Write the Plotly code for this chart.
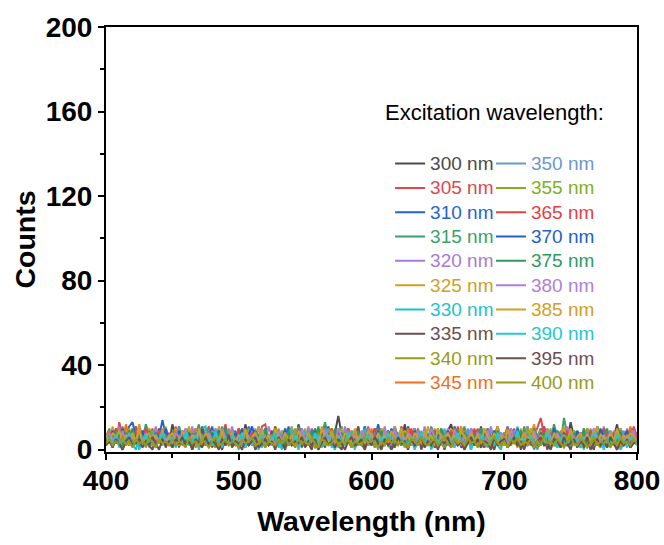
import numpy as np
import plotly.graph_objects as go

# Emission counts sampled every 2.5 nm across 400-800 nm, one list per excitation wavelength
s300 = [6,3,9,5,2,8,10,4,6,11,5,7,2,9,6,3,10,5,7,3,
        12,6,3,9,5,10,2,7,6,11,3,8,5,2,10,6,7,3,9,4,
        7,3,12,5,9,2,6,10,3,7,5,11,6,2,8,4,7,3,12,6,
        3,9,5,10,2,7,6,11,4,8,16,7,3,10,6,2,9,5,11,3,
        6,10,3,7,5,9,2,11,6,3,12,5,7,10,3,6,9,2,7,4,
        10,3,6,9,12,5,7,2,10,6,3,8,5,11,3,7,6,2,9,4,
        7,3,10,6,2,9,5,11,3,7,6,10,2,5,9,3,7,6,10,4,
        13,6,3,8,5,7,2,9,6,3,7,4,8,6,12,3,7,5,10,6,
        8]
s305 = [7,4,10,3,13,6,9,2,7,11,5,8,3,6,10,2,7,4,9,3,
        6,11,3,7,5,10,2,9,6,3,7,11,5,8,2,6,12,4,7,3,
        10,5,7,2,9,6,3,11,12,4,7,3,9,6,2,10,5,7,3,8,
        6,2,10,5,7,3,11,6,9,2,5,7,3,10,6,8,2,7,4,11,
        3,7,6,10,2,9,5,7,3,11,6,2,9,4,10,3,7,6,2,8,
        5,10,3,7,6,2,11,4,9,3,7,6,10,2,5,8,3,7,11,4,
        8,3,6,10,2,7,5,9,3,6,11,15,7,4,2,9,6,3,10,4,
        7,2,8,6,3,10,5,7,2,9,6,3,8,5,7,2,6,9,3,11,
        6]
s310 = [5,9,3,10,6,2,7,11,13,6,3,9,5,7,2,10,6,14,7,3,
        8,5,11,2,7,6,3,10,4,9,2,6,11,3,7,5,10,2,6,9,
        3,7,5,11,2,9,6,3,10,4,7,2,9,6,3,11,5,7,2,10,
        6,3,9,5,7,2,11,6,3,9,4,10,2,7,6,3,9,5,11,2,
        7,5,12,6,3,9,2,10,4,7,3,11,6,2,9,5,7,3,10,6,
        2,9,5,7,3,11,6,2,10,4,9,3,7,6,2,10,5,8,3,7,
        6,11,2,7,5,9,3,10,6,2,7,4,11,3,9,6,2,7,5,10,
        3,9,6,2,10,5,7,3,11,6,2,8,5,7,3,10,6,2,7,4,
        8]
s315 = [6,10,3,7,5,11,2,9,6,3,10,5,12,7,3,9,6,2,10,4,
        7,3,11,6,2,9,5,7,12,3,10,6,2,7,5,11,3,9,6,2,
        10,5,7,3,9,2,11,6,4,7,3,10,2,9,6,3,7,5,11,2,
        6,9,3,10,5,7,13,6,2,9,4,11,3,7,6,2,10,5,9,3,
        7,5,10,2,6,9,3,11,4,7,2,10,6,3,9,5,7,2,11,6,
        3,9,5,7,2,10,6,3,11,4,7,2,9,6,3,10,5,7,2,8,
        5,10,3,7,6,2,11,5,9,3,6,10,2,7,5,12,6,3,15,7,
        3,9,6,2,10,5,7,3,11,6,2,9,5,7,3,10,6,2,9,4,
        7]
s320 = [7,3,9,6,11,2,7,5,10,3,6,9,2,7,5,11,3,6,9,4,
        2,10,6,3,7,5,11,2,9,6,3,7,5,10,2,6,9,3,11,4,
        7,2,9,6,3,10,5,7,2,11,6,3,9,5,7,2,10,6,3,8,
        5,11,3,7,6,2,10,5,9,3,7,2,11,6,4,9,3,7,2,10,
        6,3,9,5,11,2,7,6,3,10,5,9,2,7,6,3,11,5,7,2,
        9,6,3,10,5,7,2,11,6,3,9,5,7,2,10,6,11,3,8,4,
        7,2,10,6,3,9,5,11,2,7,6,3,10,5,8,2,7,6,3,11,
        5,9,2,7,6,3,10,4,7,2,11,6,3,9,5,7,2,10,6,3,
        7]
s325 = [8,4,11,3,7,6,10,2,9,5,12,6,3,10,7,2,9,5,11,3,
        6,10,2,7,5,11,3,9,6,2,10,4,7,3,11,6,2,9,5,7,
        3,10,6,2,9,5,11,3,7,6,2,10,4,9,3,7,11,2,6,5,
        10,3,7,6,2,11,5,9,3,7,2,10,6,4,9,3,11,2,7,6,
        5,9,3,10,6,2,7,11,5,3,9,6,2,10,5,7,3,11,6,2,
        9,5,7,3,10,6,2,11,4,7,3,9,6,2,10,5,7,3,11,6,
        2,9,5,7,3,10,6,2,7,12,5,9,3,6,10,2,7,5,11,3,
        6,9,2,7,5,10,3,6,11,2,7,4,9,3,6,10,2,7,5,8,
        6]
s330 = [3,9,1,7,4,10,2,8,3,0,7,4,9,1,6,3,8,2,10,4,
        1,7,3,9,2,6,0,8,4,10,11,3,7,1,9,4,2,8,3,6,
        0,7,4,10,2,8,3,1,9,5,2,7,4,0,8,3,10,1,6,4,
        9,2,7,3,0,8,5,10,1,4,7,2,9,3,6,0,8,4,10,2,
        6,1,7,4,9,2,0,8,3,10,4,1,7,5,2,9,3,8,0,4,
        7,2,10,3,6,1,8,4,0,9,2,7,4,10,1,6,3,8,2,0,
        7,4,9,3,11,1,6,8,2,4,0,7,3,10,1,6,9,2,4,7,
        1,8,3,6,0,9,4,2,7,3,10,1,6,4,8,0,3,7,2,9,
        4]
s335 = [2,6,1,7,3,0,5,8,2,6,1,4,7,2,0,6,3,8,1,5,
        3,7,1,6,2,8,0,5,3,7,2,6,1,8,3,0,6,4,2,7,
        1,5,8,2,6,0,3,7,2,4,9,1,6,3,0,7,2,5,8,1,
        6,3,0,7,2,5,1,8,3,6,2,0,7,4,1,6,11,3,0,5,
        7,2,6,1,4,8,0,3,7,2,6,1,5,3,8,0,6,2,7,1,
        3,6,0,5,8,2,7,1,3,6,0,9,2,5,1,7,3,0,6,2,
        8,1,5,3,7,0,6,2,4,8,1,3,7,0,6,2,5,1,8,3,
        0,6,2,7,1,5,3,0,7,2,6,1,8,3,0,5,2,7,1,6,
        3]
s340 = [3,5,2,6,3,1,5,7,2,4,3,6,1,5,2,6,3,7,2,4,
        1,5,3,6,2,4,7,1,3,6,2,5,3,1,6,2,4,7,3,2,
        6,3,1,5,2,7,3,4,1,6,3,2,5,7,1,3,6,2,4,3,
        2,6,4,1,3,7,2,5,3,6,1,4,2,7,3,1,6,3,5,2,
        5,1,6,3,2,7,4,2,3,6,1,5,7,2,3,6,1,4,3,2,
        7,3,1,5,6,2,3,7,1,4,2,6,3,1,5,7,2,3,6,2,
        3,6,2,5,1,7,3,2,6,4,1,3,7,2,5,3,1,6,2,4,
        6,2,5,1,3,7,2,6,3,1,5,2,6,3,7,1,4,2,6,3,
        4]
s345 = [6,9,4,7,10,3,12,6,8,4,7,3,9,6,2,8,4,10,3,7,
        6,9,2,8,4,7,3,10,6,2,8,4,9,3,7,6,2,10,4,8,
        3,7,6,9,2,8,4,10,3,6,7,2,9,4,8,3,6,10,2,7,
        4,8,3,9,6,2,7,4,10,3,8,6,2,9,4,7,3,8,6,2,
        10,4,7,3,8,2,6,9,4,7,3,10,6,2,8,4,7,3,9,6,
        2,8,4,7,3,10,6,2,9,4,8,3,7,6,2,9,4,7,3,8,
        6,10,3,7,4,9,2,8,6,3,7,4,10,2,8,6,3,9,4,7,
        2,8,6,3,9,4,7,2,6,8,3,7,4,2,6,3,8,4,11,6,
        7]
s350 = [6,3,8,4,9,2,7,4,8,3,10,6,2,7,4,9,3,8,6,2,
        7,4,10,3,8,6,2,9,4,7,3,8,6,10,2,7,4,9,3,6,
        8,2,7,4,10,3,6,9,2,7,4,8,3,6,10,2,7,4,9,3,
        6,8,2,7,4,9,3,10,6,2,8,4,7,3,9,6,2,8,4,7,
        3,10,6,2,7,4,9,3,8,6,2,7,4,10,3,8,6,2,9,4,
        7,3,8,6,2,9,4,7,3,10,6,2,8,4,7,3,9,6,2,8,
        4,7,3,9,6,2,8,4,10,3,7,6,2,9,4,7,3,8,6,2,
        9,4,7,3,8,2,6,10,4,7,3,8,6,2,7,4,9,3,6,8,
        4]
s355 = [4,8,3,9,6,2,7,10,4,7,3,8,6,2,9,4,7,3,10,6,
        2,8,4,7,3,9,6,2,10,4,7,3,8,6,2,9,4,7,3,8,
        6,10,2,7,4,8,3,9,6,2,7,4,10,3,8,6,2,9,4,7,
        3,8,6,2,9,4,7,3,10,6,2,8,4,7,3,9,6,2,8,4,
        7,3,9,6,2,8,4,10,3,7,6,2,9,4,8,3,7,6,2,10,
        4,7,3,8,6,2,9,4,7,3,10,6,2,8,4,7,3,9,6,2,
        8,4,7,3,9,6,2,10,4,7,3,8,6,2,9,4,7,3,8,6,
        2,9,4,7,3,10,6,2,8,4,7,3,9,6,2,7,4,8,3,6,
        7]
s365 = [4,8,6,10,3,7,4,9,2,8,6,3,10,4,7,2,9,6,3,8,
        4,7,2,9,6,3,8,4,10,2,7,6,3,9,4,8,2,7,6,3,
        10,4,7,2,8,6,3,9,4,7,2,10,6,3,8,4,7,2,9,6,
        3,8,4,7,2,9,6,3,10,4,8,2,7,6,3,9,4,7,2,8,
        6,10,3,7,4,8,2,9,6,3,7,4,10,2,8,6,3,7,4,9,
        2,7,6,3,9,4,8,2,7,6,3,10,4,7,2,9,6,3,8,4,
        7,2,10,6,3,8,4,7,2,9,6,3,11,4,8,2,7,6,3,9,
        4,7,2,8,6,3,9,4,7,2,10,6,3,8,4,7,2,9,6,3,
        8]
s370 = [7,4,9,3,6,10,4,2,8,6,3,9,4,7,2,8,6,3,10,4,
        7,2,9,6,3,8,4,7,2,10,6,3,8,4,9,2,7,6,3,8,
        4,10,2,7,11,6,3,9,4,7,2,8,6,3,10,4,7,2,9,6,
        3,7,4,9,2,8,6,3,7,4,10,2,8,6,3,9,4,7,2,8,
        6,3,9,4,7,2,10,6,3,8,4,7,2,9,6,3,8,4,10,2,
        7,6,3,9,4,8,2,7,6,3,10,4,7,2,8,6,3,9,4,7,
        2,8,6,3,10,4,7,2,9,6,3,8,4,7,2,10,6,3,8,4,
        7,3,9,6,2,8,4,7,3,10,6,2,7,4,8,3,6,9,2,7,
        4]
s375 = [4,7,3,9,6,2,8,4,10,3,7,6,2,9,4,8,3,7,6,2,
        9,4,7,3,10,6,2,8,4,7,3,9,6,2,8,4,10,3,7,6,
        2,8,4,7,3,9,6,2,10,4,7,3,8,6,2,9,4,7,3,8,
        6,2,9,4,11,3,7,6,2,10,4,8,3,7,6,2,9,4,7,3,
        8,6,2,9,4,7,3,10,6,2,8,4,7,3,9,6,2,7,4,8,
        3,10,6,2,7,4,9,3,8,6,2,7,4,10,3,8,6,2,9,4,
        7,3,8,6,2,9,4,7,3,10,6,2,8,4,7,3,9,6,2,7,
        4,8,3,6,9,2,7,4,8,3,6,10,2,7,4,9,3,6,8,4,
        6]
s380 = [6,8,4,7,3,9,2,7,6,3,10,4,8,2,7,6,3,9,4,7,
        2,8,6,3,10,4,7,2,9,6,3,8,4,7,2,10,6,3,8,4,
        7,3,9,6,2,8,4,10,3,7,6,2,9,4,8,3,7,6,2,10,
        4,8,3,7,6,2,9,4,7,3,10,6,2,8,4,7,3,9,6,2,
        8,4,7,3,9,6,2,10,4,7,3,8,6,2,9,4,7,3,10,6,
        2,7,4,8,3,9,6,2,7,4,10,3,8,6,2,9,4,7,3,8,
        6,2,10,4,7,3,8,6,2,9,4,7,3,10,6,2,8,4,7,3,
        9,6,2,7,4,8,3,10,6,2,7,4,9,3,8,6,2,7,4,9,
        3]
s385 = [7,3,8,6,9,4,7,2,8,4,10,3,6,8,2,7,4,9,3,6,
        8,4,2,9,6,3,7,4,10,2,8,6,3,7,4,9,2,6,8,3,
        7,4,10,2,6,8,3,9,4,7,2,10,6,3,8,4,7,2,9,6,
        3,8,4,7,2,10,6,3,9,4,7,2,8,6,3,10,4,7,2,9,
        6,3,8,4,7,2,9,6,3,10,4,7,2,8,6,3,9,4,7,2,
        10,6,3,8,4,7,2,9,6,3,8,4,7,2,10,6,3,8,4,7,
        2,9,6,3,7,4,8,2,10,6,3,7,4,9,2,8,6,3,7,4,
        10,2,6,8,3,7,4,9,2,7,6,3,8,4,10,2,7,4,8,6,
        3]
s390 = [2,6,3,7,1,5,4,8,2,5,0,4,7,3,6,1,5,8,2,4,
        6,1,5,3,8,2,4,7,0,6,3,5,2,9,4,1,6,3,7,2,
        4,8,1,5,3,6,0,7,4,2,5,8,1,3,6,4,2,7,0,5,
        3,6,2,8,4,1,5,7,3,0,6,4,2,8,5,1,3,6,4,7,
        2,5,0,6,3,8,4,1,7,3,5,2,6,0,4,8,3,5,1,6,
        4,2,7,3,5,1,8,4,2,6,0,5,3,7,4,1,6,2,8,3,
        5,1,6,4,9,2,5,3,7,0,4,6,2,8,3,5,1,6,4,2,
        7,3,5,1,6,4,2,8,3,5,0,6,4,2,7,3,5,1,6,4,
        2]
s395 = [2,4,1,5,3,0,4,6,2,3,5,1,4,2,6,3,0,5,2,4,
        1,5,3,6,2,4,0,5,3,1,6,2,4,3,0,5,2,7,1,4,
        3,0,5,2,4,6,1,3,5,2,4,0,6,3,1,5,2,4,3,6,
        1,4,2,5,0,3,6,2,4,1,5,3,0,4,6,2,3,5,1,4,
        2,6,3,0,5,2,4,1,6,3,4,0,5,2,3,6,1,4,2,5,
        0,4,3,6,1,5,2,4,0,3,6,2,5,1,4,3,0,6,2,4,
        5,1,3,6,2,4,0,5,3,1,4,6,2,3,0,5,4,1,6,2,
        3,5,1,4,2,6,0,3,5,2,4,1,6,3,0,4,2,5,1,3,
        4]
s400 = [3,5,2,4,3,6,2,4,1,5,3,4,2,6,3,1,5,3,4,2,
        5,2,4,3,1,6,3,4,2,5,3,1,4,6,2,3,5,2,4,3,
        1,5,3,4,6,2,3,5,1,4,3,2,5,3,6,2,4,1,5,3,
        4,2,6,3,1,5,4,2,3,6,2,4,3,5,1,4,3,2,6,3,
        5,3,1,4,2,6,3,5,2,4,3,1,5,4,2,6,3,2,4,5,
        2,4,6,3,1,5,3,4,2,6,3,4,1,5,3,2,4,6,3,2,
        4,1,5,3,6,2,4,3,5,1,4,2,6,3,4,2,5,3,1,4,
        6,3,2,5,4,1,3,6,2,4,3,5,1,4,2,6,3,4,2,5,
        3]

excitation = [300, 305, 310, 315, 320, 325, 330, 335, 340, 345,
              350, 355, 365, 370, 375, 380, 385, 390, 395, 400]
spectra = [s300, s305, s310, s315, s320, s325, s330, s335, s340, s345,
           s350, s355, s365, s370, s375, s380, s385, s390, s395, s400]
colors = ["#4a4a4a", "#e0474d", "#2265cc", "#3a9f69", "#a97ad8",
          "#d09f1f", "#1fc2cb", "#6e4e4e", "#9a9a18", "#f07020",
          "#6a98cc", "#80b020", "#e84040", "#2060c8", "#2e9a60",
          "#b080d8", "#d0a020", "#22c8d0", "#6e4e4e", "#9a9a18"]

WL_MIN, WL_MAX = 400, 800
FONT = "Liberation Sans, Arial, sans-serif"

fig = go.Figure()
for i, (ex, ys, col) in enumerate(zip(excitation, spectra, colors)):
    xs = np.linspace(WL_MIN, WL_MAX, len(ys))
    fig.add_trace(go.Scatter(
        x=xs, y=ys, mode="lines",
        line=dict(color=col, width=2),
        name=f'<span style="color:{col};font-size:19px">{ex} nm</span>',
        legend="legend" if i < 10 else "legend2",
        showlegend=True,
    ))

axis_common = dict(
    showline=True, linecolor="black", linewidth=2, mirror=True,
    ticks="outside", ticklen=6, tickwidth=2, tickcolor="black",
    showgrid=False, zeroline=False,
    tickfont=dict(family=FONT, size=28, color="black", weight="bold"),
    minor=dict(ticks="outside", ticklen=4, tickwidth=2, tickcolor="black"),
)

fig.update_xaxes(
    range=[WL_MIN, WL_MAX], dtick=100, tick0=400, ticklabelstandoff=-4,
    title=dict(text="Wavelength (nm)", standoff=16,
               font=dict(family=FONT, size=28.5, color="black", weight="bold")),
    **axis_common,
)
fig.update_yaxes(
    range=[-1.1, 200], dtick=40, tick0=0,
    title=dict(text="Counts", standoff=2,
               font=dict(family=FONT, size=28.5, color="black", weight="bold")),
    **axis_common,
)
fig.update_xaxes(minor_dtick=50)
fig.update_yaxes(minor_dtick=20)

legend_common = dict(
    font=dict(family=FONT, size=16.4, color="black"),
    bgcolor="rgba(0,0,0,0)", borderwidth=0,
    yanchor="top", xanchor="left", y=0.719,
    tracegroupgap=0, itemclick=False, itemdoubleclick=False,
)

fig.update_layout(
    width=664, height=545,
    margin=dict(l=106, r=27, t=27, b=93, autoexpand=False),
    paper_bgcolor="white", plot_bgcolor="white",
    legend=dict(x=0.535, **legend_common),
    legend2=dict(x=0.725, **legend_common),
    annotations=[dict(
        text="Excitation wavelength:", x=0.731, y=0.798,
        xref="paper", yref="paper", xanchor="center", yanchor="middle",
        showarrow=False, font=dict(family=FONT, size=22, color="black"),
    )],
)

fig.write_html("out.html")
